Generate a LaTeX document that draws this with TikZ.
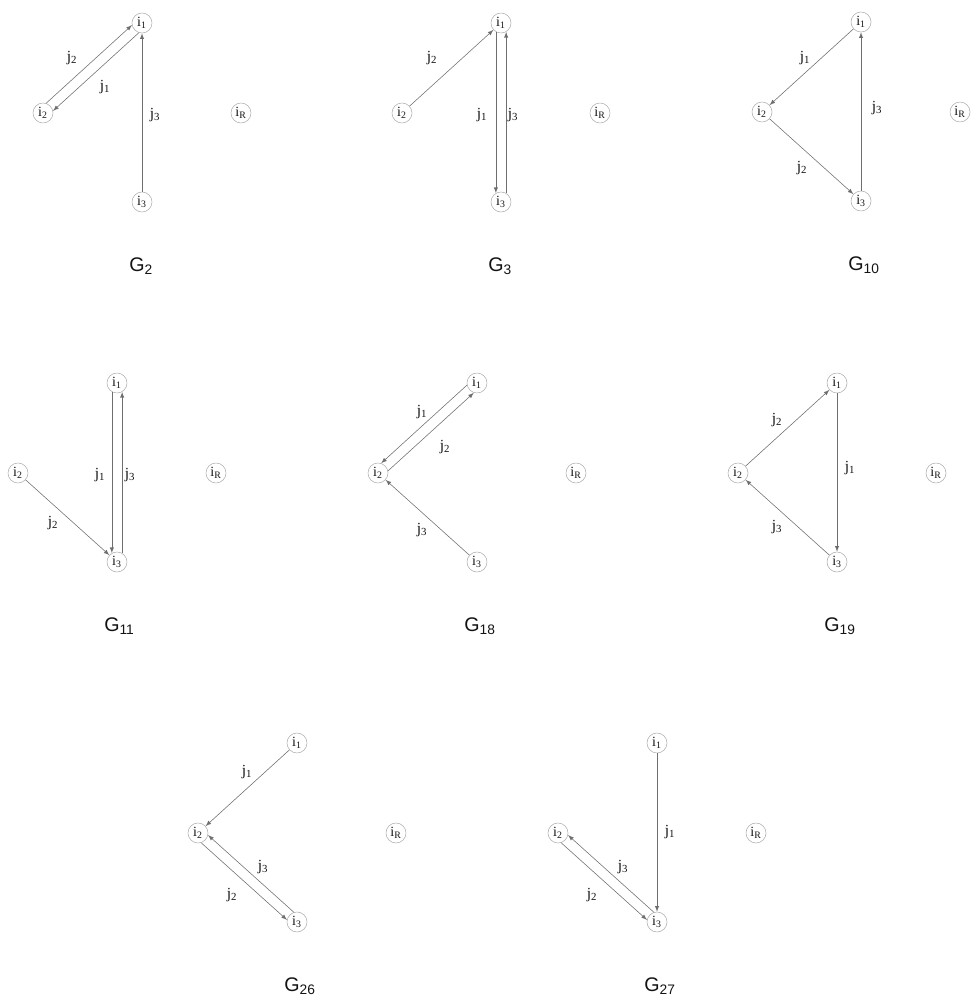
\documentclass[tikz,border=0pt]{standalone}
\usepackage{xcolor}
\usepackage{fontspec}
\setmainfont{Liberation Serif}
\newfontfamily\gfont{Liberation Sans}
\usetikzlibrary{arrows}
\definecolor{ringgray}{RGB}{175, 175, 175}
\definecolor{edgegray}{RGB}{110, 110, 110}
\definecolor{textdark}{RGB}{20, 20, 20}

\tikzset{
    vert/.style={circle, draw=ringgray, minimum size=5mm, inner sep=0pt, text=textdark, font=\fontsize{10}{10}\selectfont},
    edge/.style={draw=edgegray, -latex},
    jlab/.style={inner sep=0pt, text=textdark, font=\fontsize{11}{11}\selectfont},
    glab/.style={anchor=west, inner sep=0pt, text=textdark, font=\gfont\fontsize{14}{14}\selectfont}
}

\begin{document}
\begin{tikzpicture}[x=0.025cm, y=-0.025cm]
    \useasboundingbox (0,0) rectangle (974,1003);

    % vertices and caption of each graph, placed from i2
    \foreach \g/\x/\y in {2/43/113, 3/402/113, 10/762/112, 11/18/473, 18/378/473, 19/738/473, 26/198/833, 27/558/833} {
        \node[vert] (g\g-i2) at (\x,\y) {i\textsubscript{2}};
        \node[vert] (g\g-i1) at ({\x+99},{\y-90}) {i\textsubscript{1}};
        \node[vert] (g\g-i3) at ({\x+99},{\y+89}) {i\textsubscript{3}};
        \node[vert] (g\g-iR) at ({\x+198},{\y}) {i\textsubscript{R}};
        \node[glab] (g\g-cap) at ({\x+86},{\y+153}) {G\textsubscript{\g}};
    }

    % G2
    \draw[edge] (g2-i2.72) -- (g2-i1.192);
    \draw[edge] (g2-i1.252) -- (g2-i2.12);
    \draw[edge] (g2-i3) -- (g2-i1);
    \node[jlab] (g2-j2) at (72,58) {j\textsubscript{2}};
    \node[jlab] (g2-j1) at (105,87) {j\textsubscript{1}};
    \node[jlab] (g2-j3) at (155,115) {j\textsubscript{3}};

    % G3
    \draw[edge] (g3-i2) -- (g3-i1);
    \draw[edge] (g3-i1.-120) -- (g3-i3.120);
    \draw[edge] (g3-i3.60) -- (g3-i1.-60);
    \node[jlab] (g3-j2) at (432,58) {j\textsubscript{2}};
    \node[jlab] (g3-j1) at (482,115) {j\textsubscript{1}};
    \node[jlab] (g3-j3) at (513,115) {j\textsubscript{3}};

    % G10
    \draw[edge] (g10-i1) -- (g10-i2);
    \draw[edge] (g10-i2) -- (g10-i3);
    \draw[edge] (g10-i3) -- (g10-i1);
    \node[jlab] (g10-j1) at (805,58) {j\textsubscript{1}};
    \node[jlab] (g10-j2) at (802,168) {j\textsubscript{2}};
    \node[jlab] (g10-j3) at (877,108) {j\textsubscript{3}};

    % G11
    \draw[edge] (g11-i2) -- (g11-i3);
    \draw[edge] (g11-i1.-120) -- (g11-i3.120);
    \draw[edge] (g11-i3.60) -- (g11-i1.-60);
    \node[jlab] (g11-j2) at (53,523) {j\textsubscript{2}};
    \node[jlab] (g11-j1) at (100,475) {j\textsubscript{1}};
    \node[jlab] (g11-j3) at (130,475) {j\textsubscript{3}};

    % G18
    \draw[edge] (g18-i1.192) -- (g18-i2.72);
    \draw[edge] (g18-i2.12) -- (g18-i1.252);
    \draw[edge] (g18-i3) -- (g18-i2);
    \node[jlab] (g18-j1) at (422,412) {j\textsubscript{1}};
    \node[jlab] (g18-j2) at (445,447) {j\textsubscript{2}};
    \node[jlab] (g18-j3) at (422,530) {j\textsubscript{3}};

    % G19
    \draw[edge] (g19-i2) -- (g19-i1);
    \draw[edge] (g19-i1) -- (g19-i3);
    \draw[edge] (g19-i3) -- (g19-i2);
    \node[jlab] (g19-j2) at (777,420) {j\textsubscript{2}};
    \node[jlab] (g19-j1) at (850,468) {j\textsubscript{1}};
    \node[jlab] (g19-j3) at (777,527) {j\textsubscript{3}};

    % G26
    \draw[edge] (g26-i1) -- (g26-i2);
    \draw[edge] (g26-i3.108) -- (g26-i2.-12);
    \draw[edge] (g26-i2.-72) -- (g26-i3.168);
    \node[jlab] (g26-j1) at (247,772) {j\textsubscript{1}};
    \node[jlab] (g26-j3) at (263,867) {j\textsubscript{3}};
    \node[jlab] (g26-j2) at (232,895) {j\textsubscript{2}};

    % G27
    \draw[edge] (g27-i1) -- (g27-i3);
    \draw[edge] (g27-i3.108) -- (g27-i2.-12);
    \draw[edge] (g27-i2.-72) -- (g27-i3.168);
    \node[jlab] (g27-j1) at (670,832) {j\textsubscript{1}};
    \node[jlab] (g27-j3) at (623,867) {j\textsubscript{3}};
    \node[jlab] (g27-j2) at (592,895) {j\textsubscript{2}};
\end{tikzpicture}
\end{document}
